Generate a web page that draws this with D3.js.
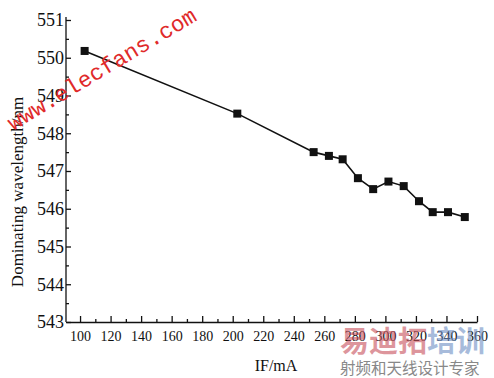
<!DOCTYPE html>
<html lang="en">
<head>
    <meta charset="UTF-8">
    <title>Dominating wavelength vs IF</title>
    <script src="https://d3js.org/d3.v7.min.js"></script>
    <style>
        body { margin: 0; background: #fff; }
        svg { display: block; background: #fff; }
        .tick text { font-family: "Liberation Serif", "Times New Roman", serif; fill: #111; }
        .domain, .tick line { stroke: #111; }
    </style>
</head>
<body>
<script>
    // values
    const currentMA = [103, 203, 253, 263, 272, 282, 292, 302, 312, 322, 331, 341, 352];
    const wavelengthNm = [550.18, 548.52, 547.50, 547.40, 547.31, 546.81, 546.52, 546.72, 546.60, 546.20, 545.91, 545.91, 545.78];
    const xTicks = [100, 120, 140, 160, 180, 200, 220, 240, 260, 280, 300, 320, 340, 360];
    const yTicks = [543, 544, 545, 546, 547, 548, 549, 550, 551];

    const width = 494, height = 378;
    const svg = d3.select("body").append("svg")
        .attr("width", width)
        .attr("height", height);

    const x = d3.scaleLinear().domain([90.8, 360]).range([66, 477]);
    const y = d3.scaleLinear().domain([543, 551]).range([322, 20]);

    // x axis, ticks pointing up into the plot
    const xAxis = svg.append("g")
        .attr("transform", `translate(0,${y(543)})`)
        .call(d3.axisBottom(x).tickValues(xTicks).tickSize(-6).tickSizeOuter(0).tickPadding(9));
    xAxis.selectAll("text").attr("font-size", 14).attr("dy", "0.71em");
    svg.append("g")
        .attr("transform", `translate(0,${y(543)})`)
        .call(d3.axisBottom(x).tickValues(d3.range(110, 360, 20)).tickSize(-3).tickFormat(""))
        .select(".domain").remove();

    // y axis, ticks pointing right
    const yAxis = svg.append("g")
        .attr("transform", `translate(${x(90.8)},0)`)
        .call(d3.axisLeft(y).tickValues(yTicks).tickSize(-5).tickSizeOuter(0).tickPadding(2));
    yAxis.selectAll("text").attr("font-size", 18);
    yAxis.select(".domain").attr("d", `M0,${y(543)}V${y(551) - 3}`);
    svg.append("g")
        .attr("transform", `translate(${x(90.8)},0)`)
        .call(d3.axisLeft(y).tickValues(d3.range(543.5, 551, 1)).tickSize(-3).tickFormat(""))
        .select(".domain").remove();
    svg.selectAll(".domain, .tick line").attr("stroke-width", 1.3);

    // axis titles
    svg.append("text")
        .attr("transform", `translate(23,192) rotate(-90)`)
        .attr("text-anchor", "middle")
        .attr("font-family", "Liberation Serif, serif")
        .attr("font-size", 17)
        .attr("fill", "#111")
        .text("Dominating wavelength/nm");

    svg.append("text")
        .attr("x", 276)
        .attr("y", 371)
        .attr("text-anchor", "middle")
        .attr("font-family", "Liberation Serif, serif")
        .attr("font-size", 16)
        .attr("fill", "#111")
        .text("IF/mA");

    // the data line
    const pts = currentMA.map((c, i) => [c, wavelengthNm[i]]);
    svg.append("path")
        .datum(pts)
        .attr("fill", "none")
        .attr("stroke", "#111")
        .attr("stroke-width", 1.6)
        .attr("d", d3.line().x(d => x(d[0])).y(d => y(d[1])));

    svg.append("g")
        .selectAll("rect")
        .data(pts)
        .join("rect")
        .attr("x", d => x(d[0]) - 4)
        .attr("y", d => y(d[1]) - 4)
        .attr("width", 8)
        .attr("height", 8)
        .attr("fill", "#111");

    // watermarks
    svg.append("text")
        .attr("transform", "translate(13,131) rotate(-31)")
        .attr("font-family", "Liberation Mono, monospace")
        .attr("font-size", 22.5)
        .attr("fill", "#e02a2a")
        .text("www.elecfans.com");

    const wm = svg.append("text")
        .attr("x", 340)
        .attr("y", 352)
        .attr("font-family", "Noto Sans CJK SC, sans-serif")
        .attr("font-weight", "bold")
        .attr("font-size", 29)
        .attr("opacity", 0.6);
    wm.append("tspan").attr("fill", "#c8505c").text("易迪拓");
    wm.append("tspan").attr("fill", "#6d8fc4").text("培训");

    svg.append("text")
        .attr("x", 340)
        .attr("y", 374)
        .attr("font-family", "Noto Sans CJK SC, sans-serif")
        .attr("font-size", 15.5)
        .attr("fill", "#888")
        .text("射频和天线设计专家");
</script>
</body>
</html>
